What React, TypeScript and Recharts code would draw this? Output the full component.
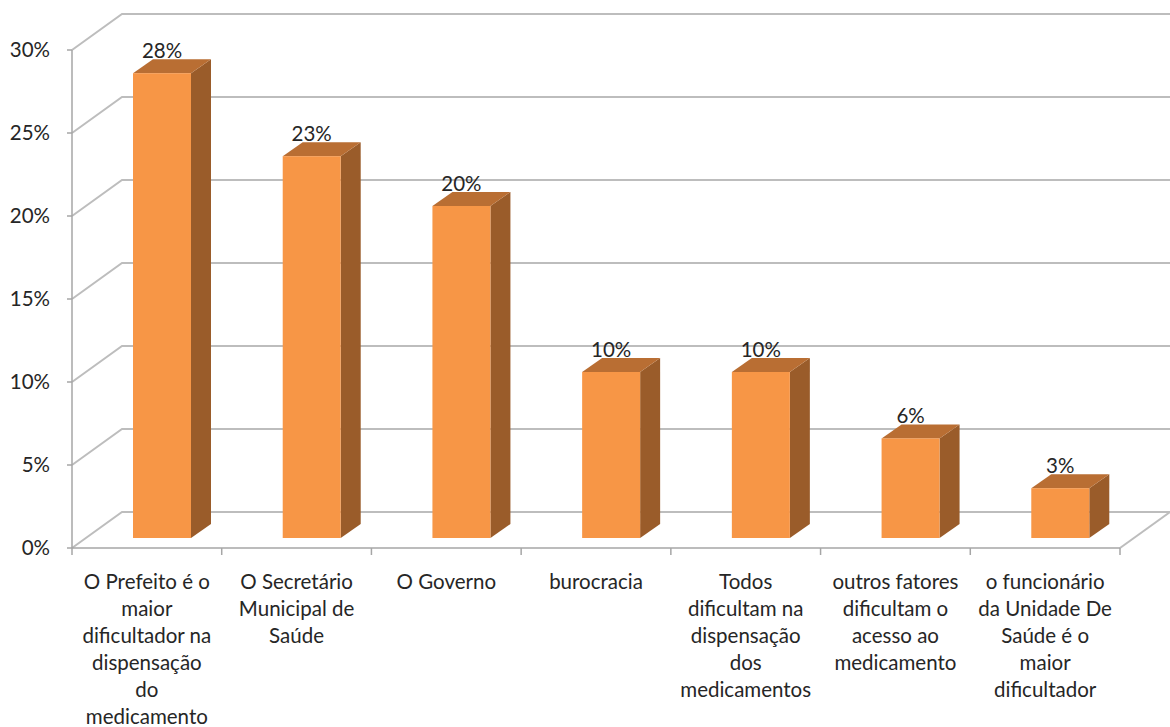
import { Bar, BarChart, CartesianGrid, LabelList, Text, XAxis, YAxis } from "recharts";

const CATEGORIES = [
  "O Prefeito é o maior dificultador na dispensação do medicamento",
  "O Secretário Municipal de Saúde",
  "O Governo",
  "burocracia",
  "Todos dificultam na dispensação dos medicamentos",
  "outros fatores dificultam o acesso ao medicamento",
  "o funcionário da Unidade  De Saúde é o maior dificultador",
];
const VALUES = [0.28, 0.23, 0.2, 0.1, 0.1, 0.06, 0.03];
const Y_TICKS = [0, 0.05, 0.1, 0.15, 0.2, 0.25, 0.3];

const data = CATEGORIES.map((name, i) => ({ name, value: VALUES[i] }));

const FONT = "Lato, 'Open Sans', sans-serif";
const TEXT = "#262626";
const GRID = "#BDBDBD";
const AXIS = "#A6A6A6";
const FRONT = "#F79646";
const TOP = "#B96E33";
const SIDE = "#9A5C2A";

// 3d look: back wall offset and bar offsets
const WALL_DX = 50;
const WALL_DY = 36;
const SHIFT_X = 15;
const SHIFT_Y = 10;
const DEPTH_X = 20;
const DEPTH_Y = 14;
const BAND = (1170 - 72 - 50) / CATEGORIES.length;

const pct = (v: number) => `${Math.round(v * 100)}%`;

function GridLine(props: any) {
  const { x1, y1, x2 } = props;
  const bottom = (props.y ?? 0) + (props.height ?? 0);
  const isFloor = Math.abs(y1 - bottom) < 1;
  return (
    <g key={props.key}>
      <path
        d={`M${x1},${y1} L${x1 + WALL_DX},${y1 - WALL_DY} L${x2 + WALL_DX},${y1 - WALL_DY}`}
        fill="none"
        stroke={GRID}
        strokeWidth={2}
      />
      {isFloor && (
        <line x1={x2} y1={y1} x2={x2 + WALL_DX} y2={y1 - WALL_DY} stroke={GRID} strokeWidth={2} />
      )}
    </g>
  );
}

function Bar3D(props: any) {
  const { x, y, width, height } = props;
  const fx = x + SHIFT_X;
  const fy = y - SHIFT_Y;
  const fb = y + height - SHIFT_Y;
  const r = fx + width;
  return (
    <g>
      <path d={`M${r},${fy} L${r + DEPTH_X},${fy - DEPTH_Y} L${r + DEPTH_X},${fb - DEPTH_Y} L${r},${fb} Z`} fill={SIDE} />
      <path d={`M${fx},${fy} L${fx + DEPTH_X},${fy - DEPTH_Y} L${r + DEPTH_X},${fy - DEPTH_Y} L${r},${fy} Z`} fill={TOP} />
      <rect x={fx} y={fy} width={width} height={height} fill={FRONT} />
    </g>
  );
}

function ValueLabel(props: any) {
  const { x, y, width, value } = props;
  return (
    <text
      x={x + width / 2 + SHIFT_X}
      y={y - SHIFT_Y - DEPTH_Y - 1}
      textAnchor="middle"
      fontFamily={FONT}
      fontSize={20.5}
      fill={TEXT}
    >
      {pct(value)}
    </text>
  );
}

const LABEL_STYLE = { fontFamily: FONT, fontSize: "20.5px" };

function CategoryTick(props: any) {
  const { x, y, payload, index, visibleTicksCount } = props;
  const left = x - BAND / 2;
  return (
    <g>
      <line x1={left} y1={y - 7} x2={left} y2={y} stroke={AXIS} strokeWidth={1.5} />
      {index === visibleTicksCount - 1 && (
        <line x1={left + BAND} y1={y - 7} x2={left + BAND} y2={y} stroke={AXIS} strokeWidth={1.5} />
      )}
      <Text
        x={x}
        y={y + 19}
        width={138}
        textAnchor="middle"
        verticalAnchor="start"
        lineHeight={27}
        style={LABEL_STYLE}
        fill={TEXT}
      >
        {payload.value}
      </Text>
    </g>
  );
}

export default function App() {
  return (
    <div style={{ position: "absolute", left: 0, top: 0, background: "#fff" }}>
      <BarChart width={1170} height={727} data={data} margin={{ top: 50, right: 50, bottom: 29, left: 0 }}>
        <CartesianGrid vertical={false} horizontal={(p: any) => <GridLine {...p} />} />
        <XAxis
          dataKey="name"
          interval={0}
          height={150}
          tickLine={false}
          tickSize={7}
          tickMargin={0}
          axisLine={{ stroke: AXIS, strokeWidth: 1.5 }}
          tick={<CategoryTick />}
        />
        <YAxis
          width={72}
          domain={[0, 0.3]}
          ticks={Y_TICKS}
          tickFormatter={pct}
          tickSize={5}
          tickMargin={17}
          axisLine={{ stroke: AXIS, strokeWidth: 1.5 }}
          tickLine={{ stroke: AXIS, strokeWidth: 1.5 }}
          tick={{ fill: TEXT, fontSize: 20.5, fontFamily: FONT }}
        />
        <Bar dataKey="value" barSize={58} shape={<Bar3D />} isAnimationActive={false}>
          <LabelList dataKey="value" content={<ValueLabel />} />
        </Bar>
      </BarChart>
    </div>
  );
}
